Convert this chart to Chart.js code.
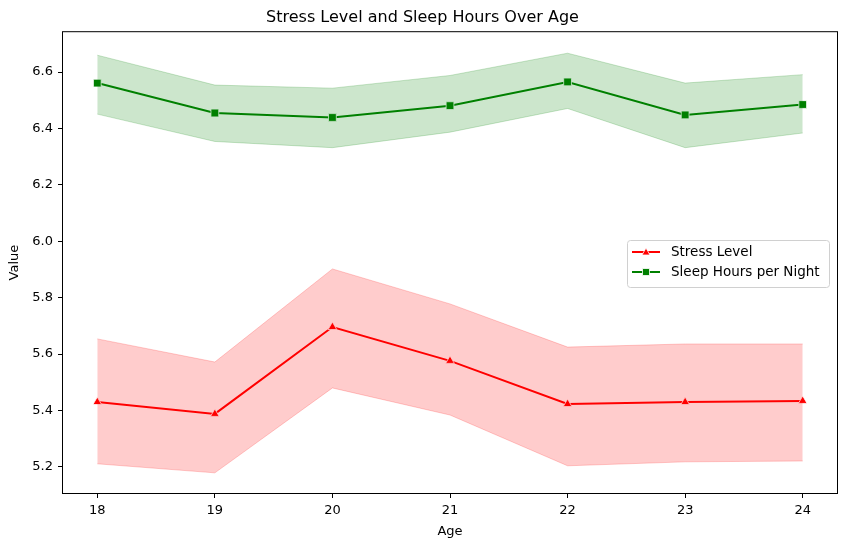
<!DOCTYPE html>
<html>
<head>
<meta charset="utf-8">
<script src="https://cdn.jsdelivr.net/npm/chart.js@4.4.1/dist/chart.umd.min.js"></script>
<style>
  html, body { margin: 0; padding: 0; background: #fff; }
  #wrap { width: 846px; height: 547px; }
</style>
</head>
<body>
<div id="wrap"><canvas id="chart"></canvas></div>
<script>
// === Data ===
const ages = [18, 19, 20, 21, 22, 23, 24];
const stressMean = [5.430, 5.388, 5.696, 5.576, 5.423, 5.430, 5.434];
const stressUpper = [5.654, 5.572, 5.902, 5.778, 5.625, 5.636, 5.636];
const stressLower = [5.211, 5.179, 5.480, 5.384, 5.204, 5.218, 5.221];
const sleepMean = [6.561, 6.455, 6.439, 6.481, 6.565, 6.448, 6.485];
const sleepUpper = [6.660, 6.554, 6.543, 6.588, 6.667, 6.561, 6.591];
const sleepLower = [6.451, 6.354, 6.332, 6.387, 6.471, 6.332, 6.384];
const xTicks = [18, 19, 20, 21, 22, 23, 24];
const yTicks = [5.2, 5.4, 5.6, 5.8, 6.0, 6.2, 6.4, 6.6];

const FONT = "'DejaVu Sans', sans-serif";

const pts = (vals) => ages.map((a, i) => ({ x: a, y: vals[i] }));

const band = (vals, color, fill) => ({
    data: pts(vals),
    borderColor: color.edge,
    backgroundColor: color.fill,
    borderWidth: 1,
    pointRadius: 0,
    fill: fill,
    tension: 0,
});

const RED = { edge: "rgba(255,0,0,0.2)", fill: "rgba(255,0,0,0.2)" };
const GREEN = { edge: "rgba(0,128,0,0.2)", fill: "rgba(0,128,0,0.2)" };

// === Box + legend plugin (matplotlib style) ===
const boxAndLegend = {
    id: "boxAndLegend",
    afterDatasetsDraw(chart) {
        const { ctx, chartArea: a } = chart;
        ctx.save();
        ctx.strokeStyle = "#000";
        ctx.lineWidth = 1;
        ctx.strokeRect(a.left + 0.5, a.top + 0.5, a.right - a.left - 1, a.bottom - a.top - 1);

        // legend box
        const lx = 627, ly = 240, lw = 202, lh = 47;
        ctx.fillStyle = "rgba(255,255,255,0.8)";
        ctx.strokeStyle = "#d0d0d0";
        ctx.beginPath();
        ctx.roundRect(lx + 0.5, ly + 0.5, lw, lh, 3);
        ctx.fill();
        ctx.stroke();

        const entries = [
            { label: "Stress Level", color: "red", marker: "triangle", y: ly + 12 },
            { label: "Sleep Hours per Night", color: "green", marker: "rect", y: ly + 32 },
        ];
        entries.forEach((e) => {
            ctx.strokeStyle = e.color;
            ctx.lineWidth = 2;
            ctx.beginPath();
            ctx.moveTo(lx + 5, e.y);
            ctx.lineTo(lx + 33, e.y);
            ctx.stroke();
            ctx.fillStyle = e.color;
            ctx.strokeStyle = "#fff";
            ctx.lineWidth = 0.8;
            ctx.beginPath();
            if (e.marker === "triangle") {
                ctx.moveTo(lx + 19, e.y - 4);
                ctx.lineTo(lx + 23, e.y + 3);
                ctx.lineTo(lx + 15, e.y + 3);
                ctx.closePath();
            } else {
                ctx.rect(lx + 15.5, e.y - 3.5, 7, 7);
            }
            ctx.fill();
            ctx.stroke();
            ctx.fillStyle = "#000";
            ctx.font = "13.5px " + FONT;
            ctx.textBaseline = "middle";
            ctx.textAlign = "left";
            ctx.fillText(e.label, lx + 44, e.y);
        });
        ctx.restore();
    },
};

const tickStyle = { color: "#000", font: { family: FONT, size: 13 } };

const ctx = document.getElementById("chart").getContext("2d");
new Chart(ctx, {
    type: "line",
    data: {
        datasets: [
            band(stressLower, RED, false),
            band(stressUpper, RED, "-1"),
            band(sleepLower, GREEN, false),
            band(sleepUpper, GREEN, "-1"),
            {
                label: "Stress Level",
                data: pts(stressMean),
                borderColor: "red",
                backgroundColor: "red",
                borderWidth: 2,
                pointStyle: "triangle",
                pointRadius: 5,
                pointBorderColor: "#fff",
                pointBorderWidth: 0.8,
                fill: false,
                tension: 0,
            },
            {
                label: "Sleep Hours per Night",
                data: pts(sleepMean),
                borderColor: "green",
                backgroundColor: "green",
                borderWidth: 2,
                pointStyle: "rect",
                pointRadius: 5.5,
                pointBorderColor: "#fff",
                pointBorderWidth: 0.8,
                fill: false,
                tension: 0,
            },
        ],
    },
    options: {
        responsive: true,
        maintainAspectRatio: false,
        animation: false,
        layout: { padding: { left: 7, right: 8, top: 0, bottom: 8 } },
        plugins: {
            legend: { display: false },
            tooltip: { enabled: false },
            title: {
                display: true,
                text: "Stress Level and Sleep Hours Over Age",
                color: "#000",
                font: { family: FONT, size: 16, weight: "normal" },
                padding: { top: 8, bottom: 4 },
            },
        },
        scales: {
            x: {
                type: "linear",
                min: 17.7,
                max: 24.3,
                afterBuildTicks: (s) => { s.ticks = xTicks.map((v) => ({ value: v })); },
                afterFit: (s) => { s.height = 45; },
                ticks: { ...tickStyle, padding: 5, callback: (v) => String(v) },
                grid: { display: true, drawOnChartArea: false, drawTicks: true, tickLength: 4, color: "#000" },
                border: { display: false },
                title: { display: true, text: "Age", color: "#000", font: { family: FONT, size: 13 }, padding: { top: 2, bottom: 0 } },
            },
            y: {
                type: "linear",
                min: 5.104,
                max: 6.745,
                afterBuildTicks: (s) => { s.ticks = yTicks.map((v) => ({ value: v })); },
                afterFit: (s) => { s.width = 55; },
                ticks: { ...tickStyle, padding: 5, callback: (v) => v.toFixed(1) },
                grid: { display: true, drawOnChartArea: false, drawTicks: true, tickLength: 4, color: "#000" },
                border: { display: false },
                title: { display: true, text: "Value", color: "#000", font: { family: FONT, size: 13 }, padding: { top: 0, bottom: 0 } },
            },
        },
    },
    plugins: [boxAndLegend],
});
</script>
</body>
</html>
